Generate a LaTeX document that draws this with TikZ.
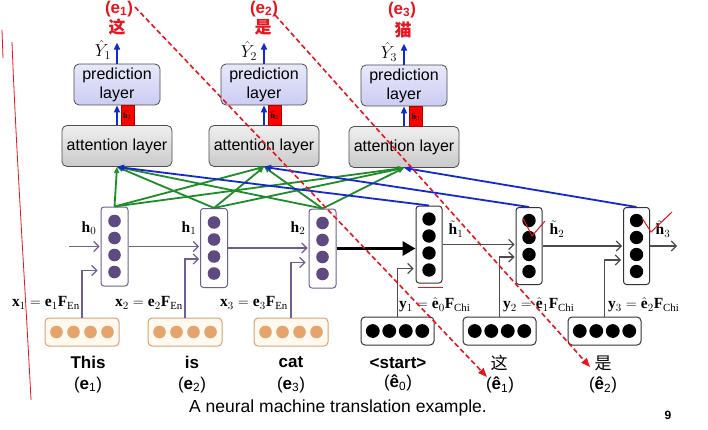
\documentclass[tikz,border=0pt]{standalone}
\usepackage{amsmath}
\usepackage{fontspec}
\setmainfont{Liberation Serif}
\setsansfont{Liberation Sans}
\newfontfamily\cjk{Noto Sans CJK SC}
\usepackage{xcolor}
\usepackage{tikz}
\usetikzlibrary{arrows.meta, positioning}

\definecolor{encline}{HTML}{6E5E92}
\definecolor{encdot}{HTML}{5E4A80}
\definecolor{embline}{HTML}{D8A274}
\definecolor{embdot}{HTML}{E3A46E}
\definecolor{embfill}{HTML}{FFF9F0}
\definecolor{attgreen}{HTML}{1E8C28}
\definecolor{attblue}{HTML}{1428D2}
\definecolor{predfill}{HTML}{CCCCF4}
\definecolor{annored}{HTML}{E8141E}

\tikzset{
  attbox/.style={draw=black!70, line width=0.8pt, rounded corners=5pt,
    top color=gray!12, bottom color=gray!42, minimum width=110pt,
    minimum height=41pt, inner sep=0pt},
  predbox/.style={draw=black!70, line width=0.8pt, rounded corners=5pt,
    top color=predfill!45, bottom color=predfill, minimum width=86pt,
    minimum height=41pt, inner sep=0pt, align=center},
  hbox/.style={fill=red, draw=red!70!black, minimum width=13pt,
    minimum height=20pt, inner sep=0pt, font=\fontsize{8}{9}\selectfont},
  enccol/.style={draw=encline, line width=1pt, rounded corners=3pt, fill=white,
    minimum width=27pt, minimum height=79pt},
  deccol/.style={draw=black!80, line width=1pt, rounded corners=3pt, fill=white,
    minimum width=26pt, minimum height=77pt},
  embenc/.style={draw=embline, fill=embfill, line width=1pt, rounded corners=4pt,
    minimum width=74pt, minimum height=28pt},
  embdec/.style={draw=black!80, fill=white, line width=1pt, rounded corners=4pt,
    minimum width=73pt, minimum height=28pt},
  hidarrow/.style={encline, line width=1.2pt, -{Straight Barb[length=5pt]}},
  decarrow/.style={black!70, line width=1.2pt, -{Straight Barb[length=5pt]}},
  greenarr/.style={attgreen, line width=1.8pt, -{Triangle[length=6pt,width=5pt]}},
  bluearr/.style={attblue, line width=1.8pt, -{Triangle[length=7pt,width=6pt]}},
  redguide/.style={annored, line width=1.6pt, dash pattern=on 5pt off 3pt,
    -{Triangle[length=9pt,width=7pt]}},
  mathlbl/.style={font=\fontsize{15.5}{17}\selectfont, inner sep=1pt},
  wordlbl/.style={font=\sffamily\fontsize{17}{19}\selectfont\bfseries},
  sublbl/.style={font=\sffamily\fontsize{17}{19}\selectfont},
  redlbl/.style={annored, font=\sffamily\fontsize{17}{19}\selectfont\bfseries},
}

\begin{document}
\begin{tikzpicture}[x=1pt, y=-1pt, every node/.style={font=\sffamily\fontsize{16}{19}\selectfont}]
\useasboundingbox (0,0) rectangle (708,430);
\fill[white] (0,0) rectangle (708,430);

% attention and prediction layers
\node[attbox] (att1) at (117,146) {attention layer};
\node[attbox] (att2) at (264,146) {attention layer};
\node[attbox] (att3) at (404,147) {attention layer};
\node[predbox] (pred1) at (117,84.5) {prediction\\layer};
\node[predbox] (pred2) at (264,84.5) {prediction\\layer};
\node[predbox] (pred3) at (404,85.5) {prediction\\layer};
\node[hbox] (hb1) at (127.5,115) {$\tilde{\mathbf{h}}_1$};
\node[hbox] (hb2) at (275,115) {$\tilde{\mathbf{h}}_2$};
\node[hbox] (hb3) at (416,116) {$\tilde{\mathbf{h}}_3$};
\foreach \n in {1,2,3} {
  \draw[bluearr] (att\n.north) -- (pred\n.south);
  \coordinate (yh\n) at ([yshift=21pt]pred\n.north);
  \draw[bluearr] (pred\n.north) -- (yh\n);
}
\node[mathlbl, font=\fontsize{17.5}{19}\selectfont] (yhat1) at (103,50) {$\hat{Y}_1$};
\node[mathlbl, font=\fontsize{17.5}{19}\selectfont] (yhat2) at (249,51) {$\hat{Y}_2$};
\node[mathlbl, font=\fontsize{17.5}{19}\selectfont] (yhat3) at (389,52) {$\hat{Y}_3$};

% output words
\node[redlbl] (out1) at (119,9) {(e\textsubscript{1})};
\node[redlbl, font=\cjk\fontsize{17}{19}\selectfont\bfseries] (zh1) at (117,27) {这};
\node[redlbl] (out2) at (264,9) {(e\textsubscript{2})};
\node[redlbl, font=\cjk\fontsize{17}{19}\selectfont\bfseries] (zh2) at (263,27) {是};
\node[redlbl] (out3) at (402,10) {(e\textsubscript{3})};
\node[redlbl, font=\cjk\fontsize{17}{19}\selectfont\bfseries] (zh3) at (403,30) {猫};

% encoder
\node[enccol] (enc1) at (114.5,246.5) {};
\node[enccol] (enc2) at (214,248) {};
\node[enccol] (enc3) at (322.5,248.5) {};
\node[embenc] (emb1) at (82,332) {};
\node[embenc] (emb2) at (185,332) {};
\node[embenc] (emb3) at (291,332) {};
\foreach \n in {enc1,enc2,enc3}
  \foreach \d in {-25.5,-8.5,8.5,25.5}
    \fill[encdot] ([yshift=\d pt]\n.center) circle (6.3pt);
\foreach \n in {emb1,emb2,emb3}
  \foreach \d in {-25.5,-8.5,8.5,25.5}
    \fill[embdot] ([xshift=\d pt]\n.center) circle (6.3pt);
\coordinate (h0) at (69,246.5);
\draw[hidarrow, shorten >=1pt] (h0) -- (enc1.west);
\draw[hidarrow, shorten >=1pt] (enc1.east) -- (enc1.east -| enc2.west);
\draw[hidarrow, shorten >=1pt] (enc2.east) -- (enc2.east -| enc3.west);
\draw[hidarrow, shorten >=3pt] (emb1.north) |- ([yshift=-24pt]enc1.west);
\draw[hidarrow, shorten >=1pt] (emb2.north) |- ([yshift=-11pt]enc2.west);
\draw[hidarrow, shorten >=3pt] (emb3.north) |- ([yshift=-14pt]enc3.west);
\node[mathlbl] (lh0) at (89,228) {$\mathbf{h}_0$};
\node[mathlbl] (lh1) at (189,228) {$\mathbf{h}_1$};
\node[mathlbl] (lh2) at (298,228) {$\mathbf{h}_2$};
\node[mathlbl, anchor=east] (lx1) at (81,303) {$\mathbf{x}_1=\mathbf{e}_1\mathbf{F}_{\mathrm{En}}$};
\node[mathlbl, anchor=east] (lx2) at (184,303) {$\mathbf{x}_2=\mathbf{e}_2\mathbf{F}_{\mathrm{En}}$};
\node[mathlbl, anchor=east] (lx3) at (289,303) {$\mathbf{x}_3=\mathbf{e}_3\mathbf{F}_{\mathrm{En}}$};
\node[wordlbl] (w1) at (88,362) {This};
\node[sublbl] (e1) at (88,385) {(\textbf{e}\textsubscript{1})};
\node[wordlbl] (w2) at (192,362) {is};
\node[sublbl] (e2) at (192,385) {(\textbf{e}\textsubscript{2})};
\node[wordlbl] (w3) at (291,362) {cat};
\node[sublbl] (e3) at (291,385) {(\textbf{e}\textsubscript{3})};

% decoder
\node[deccol] (dec1) at (429,244.5) {};
\node[deccol] (dec2) at (529,246) {};
\node[deccol] (dec3) at (636.5,246) {};
\node[embdec] (demb1) at (397.5,331) {};
\node[embdec] (demb2) at (499.5,331) {};
\node[embdec] (demb3) at (604.5,331) {};
\foreach \n in {dec1,dec2,dec3}
  \foreach \d in {-25.5,-8.5,8.5,25.5}
    \fill[black] ([yshift=\d pt]\n.center) circle (6.7pt);
\foreach \n in {demb1,demb2,demb3}
  \foreach \d in {-24.75,-8.25,8.25,24.75}
    \fill[black] ([xshift=\d pt]\n.center) circle (6.9pt);
\draw[line width=3.5pt, -{Triangle[length=13pt,width=14pt]}] (enc3.east) -- (enc3.east -| dec1.west);
\draw[decarrow, shorten >=1pt] (dec1.east) -- (dec1.east -| dec2.west);
\draw[decarrow, shorten >=1pt] (dec2.east) -- (dec2.east -| dec3.west);
\coordinate (hout) at (677,246);
\draw[decarrow] (dec3.east) -- (hout);
\draw[decarrow, shorten >=2pt] (demb1.north) |- ([yshift=-24pt]dec1.west);
\draw[decarrow, shorten >=1pt] (demb2.north) |- ([yshift=-11pt]dec2.west);
\draw[decarrow, shorten >=2pt] (demb3.north) |- ([yshift=-14pt]dec3.west);
\node[mathlbl, inner sep=0pt] (lt1) at (456,229) {$\tilde{\mathbf{h}}_1$};
\node[mathlbl, inner sep=0pt] (lt2) at (557,229) {$\tilde{\mathbf{h}}_2$};
\node[mathlbl, inner sep=0pt] (lt3) at (663,229) {$\tilde{\mathbf{h}}_3$};
\node[mathlbl, anchor=west] (ly1) at (398,305) {$\mathbf{y}_1=\hat{\mathbf{e}}_0\mathbf{F}_{\mathrm{Chi}}$};
\node[mathlbl, anchor=west] (ly2) at (502,305) {$\mathbf{y}_2=\hat{\mathbf{e}}_1\mathbf{F}_{\mathrm{Chi}}$};
\node[mathlbl, anchor=west] (ly3) at (607,305) {$\mathbf{y}_3=\hat{\mathbf{e}}_2\mathbf{F}_{\mathrm{Chi}}$};
\node[wordlbl] (s0) at (398,363) {<start>};
\node[sublbl] (se0) at (398,383) {(\textbf{ê}\textsubscript{0})};
\node[sublbl, font=\cjk\fontsize{17}{19}\selectfont] (s1) at (499,363) {这};
\node[sublbl] (se1) at (500,385) {(\textbf{ê}\textsubscript{1})};
\node[sublbl, font=\cjk\fontsize{17}{19}\selectfont] (s2) at (603,363) {是};
\node[sublbl] (se2) at (603,385) {(\textbf{ê}\textsubscript{2})};

% attention links
\foreach \s in {enc1,enc2,enc3}
  \foreach \t in {att1,att2,att3}
    \draw[greenarr] (\s.north) -- (\t.south);
\foreach \s/\t in {dec1/att1,dec2/att2,dec3/att3}
  \draw[bluearr] (\s.north) -- (\t.south);

% caption
\node[font=\sffamily\fontsize{17.5}{20}\selectfont] (cap) at (338,408) {A neural machine translation example.};
\node[font=\sffamily\fontsize{12}{14}\selectfont\bfseries] (pg) at (668,415) {9};

% red annotations
\coordinate (ga) at (135,7);
\coordinate (gb) at (487,377);
\coordinate (gc) at (275,15);
\coordinate (gd) at (590,367);
\draw[redguide] (ga) -- (gb);
\draw[redguide] (gc) -- (gd);
\draw[annored, line width=1pt] (418,287) -- (443,287);
\draw[annored, line width=1pt] (523,218) -- (532,236) -- (545,221);
\draw[annored, line width=1pt] (642,218) -- (651,232) -- (672,212);
\draw[annored, line width=0.8pt] (12,42) .. controls (16,150) and (26,300) .. (31,400);
\draw[annored, line width=0.8pt] (2,30) -- (3,58);
\end{tikzpicture}
\end{document}
